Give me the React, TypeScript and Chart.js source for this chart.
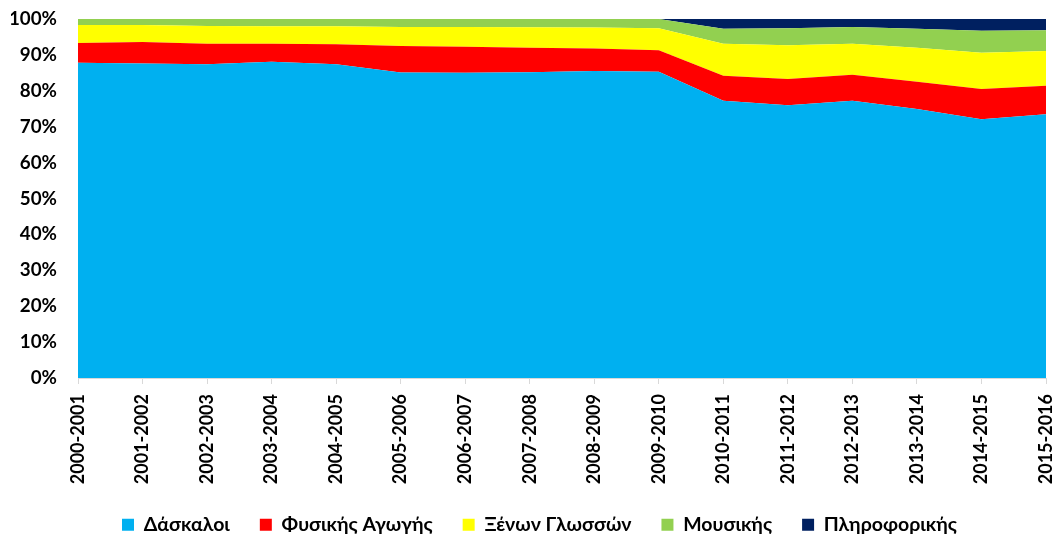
import React, { useEffect, useRef } from "react";
import { Chart, registerables } from "chart.js";

Chart.register(...registerables);

const years = [
  "2000-2001", "2001-2002", "2002-2003", "2003-2004", "2004-2005", "2005-2006",
  "2006-2007", "2007-2008", "2008-2009", "2009-2010", "2010-2011", "2011-2012",
  "2012-2013", "2013-2014", "2014-2015", "2015-2016",
];

const daskaloi = [87.8, 87.6, 87.4, 88.1, 87.4, 85.1, 85.0, 85.2, 85.5, 85.3, 77.2, 76.0, 77.2, 74.9, 72.1, 73.5];
const fysikis = [5.5, 6.0, 5.7, 5.0, 5.6, 7.4, 7.3, 6.8, 6.3, 6.0, 7.0, 7.3, 7.3, 7.6, 8.4, 7.9];
const xenon = [5.0, 4.7, 4.95, 4.9, 5.0, 5.3, 5.5, 5.7, 5.8, 6.1, 8.9, 9.4, 8.6, 9.5, 10.1, 9.7];
const mousikis = [1.7, 1.7, 1.95, 2.0, 2.0, 2.2, 2.2, 2.3, 2.4, 2.6, 4.2, 4.7, 4.7, 5.3, 6.1, 5.8];
const pliroforikis = [0, 0, 0, 0, 0, 0, 0, 0, 0, 0, 2.7, 2.6, 2.2, 2.7, 3.3, 3.1];

const yTicks = [0, 10, 20, 30, 40, 50, 60, 70, 80, 90, 100];

const FONT = "Lato, 'Liberation Sans', sans-serif";

const legendShift = {
  id: "legendShift",
  afterUpdate(chart: any) {
    if (chart.legend) {
      chart.legend.left += 6;
      chart.legend.right += 6;
    }
  },
};

export default function App() {
  const ref = useRef<HTMLCanvasElement | null>(null);

  useEffect(() => {
    if (!ref.current) return;
    const mk = (label: string, data: number[], color: string, fill: string | boolean) => ({
      label,
      data,
      backgroundColor: color,
      borderColor: color,
      borderWidth: 0,
      pointRadius: 0,
      fill,
      tension: 0,
    });
    const chart = new Chart(ref.current, {
      type: "line",
      data: {
        labels: years,
        datasets: [
          mk("Δάσκαλοι", daskaloi, "#00b0f0", "origin"),
          mk("Φυσικής Αγωγής", fysikis, "#ff0000", "-1"),
          mk("Ξένων Γλωσσών", xenon, "#ffff00", "-1"),
          mk("Μουσικής", mousikis, "#92d050", "-1"),
          mk("Πληροφορικής", pliroforikis, "#002060", "-1"),
        ] as any,
      },
      plugins: [legendShift],
      options: {
        animation: false,
        responsive: false,
        maintainAspectRatio: false,
        layout: { padding: { left: 11, right: 0, top: 19, bottom: 0 } },
        plugins: {
          tooltip: { enabled: false },
          legend: {
            position: "bottom",
            maxHeight: 50,
            labels: {
              boxWidth: 12,
              boxHeight: 12,
              padding: 30,
              color: "#000",
              font: { family: FONT, size: 19.5, weight: "bold" },
            },
          },
        },
        scales: {
          x: {
            offset: false,
            afterFit: (s: any) => {
              s.height = 107;
              s.paddingLeft = 0;
              s.paddingRight = 10;
            },
            grid: {
              drawOnChartArea: false,
              drawTicks: true,
              tickLength: 6,
              color: "#d9d9d9",
            },
            border: { color: "#d9d9d9", width: 1 },
            ticks: {
              minRotation: 90,
              maxRotation: 90,
              autoSkip: false,
              color: "#000",
              padding: 10,
              font: { family: FONT, size: 18, weight: "bold" },
            },
          },
          y: {
            stacked: true,
            min: 0,
            max: 100,
            afterBuildTicks: (axis: any) => {
              axis.ticks = yTicks.map((v) => ({ value: v }));
            },
            afterFit: (s: any) => {
              s.width = 67;
              s.paddingTop = 0;
              s.paddingBottom = 0;
            },
            grid: { color: "#d9d9d9", drawTicks: false },
            border: { display: false },
            ticks: {
              color: "#000",
              padding: 21,
              font: { family: FONT, size: 18.8, weight: "bold" },
              callback: (v: any) => v + "%",
            },
          },
        },
      } as any,
    });
    return () => chart.destroy();
  }, []);

  return (
    <div style={{ position: "fixed", left: 0, top: 0, width: 1056, height: 535, background: "#fff" }}>
      <canvas ref={ref} width={1056} height={535} style={{ width: 1056, height: 535 }} />
    </div>
  );
}
